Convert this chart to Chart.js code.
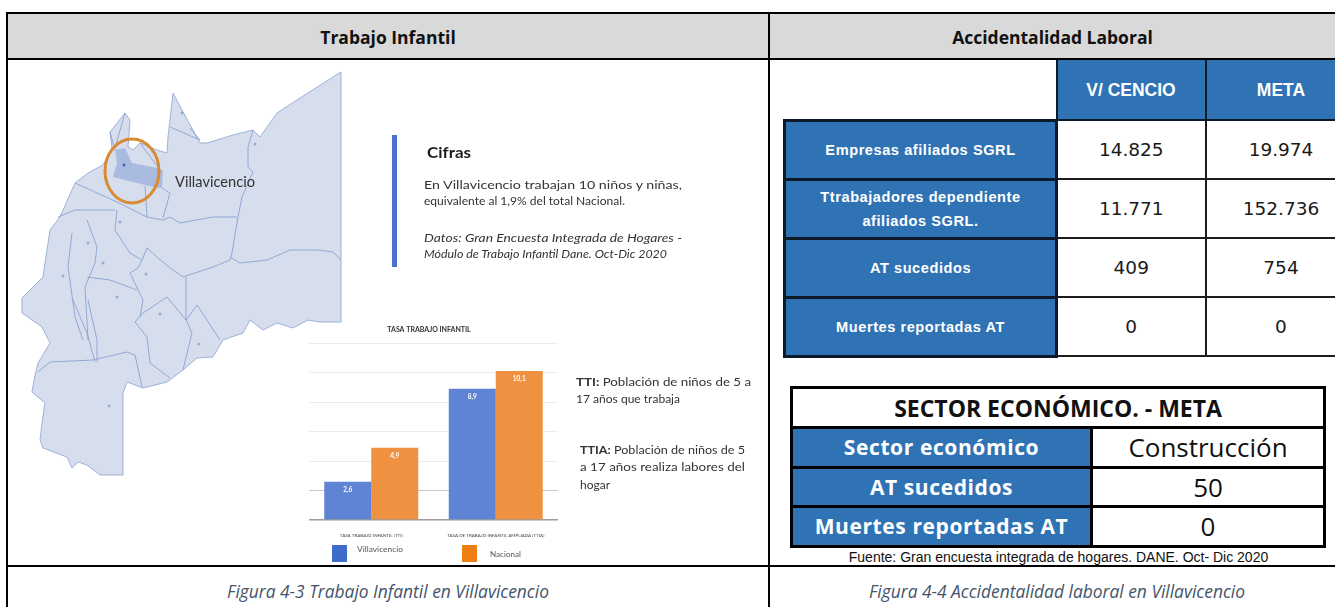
<!DOCTYPE html>
<html lang="es">
<head>
<meta charset="utf-8">
<title>Trabajo Infantil y Accidentalidad Laboral</title>
<script src="https://cdn.jsdelivr.net/npm/chart.js@4"></script>
<style>
  html, body { margin: 0; padding: 0; background: #fff; }
  body { position: relative; width: 1335px; height: 607px; overflow: hidden; font-family: "Liberation Sans", sans-serif; }
  .line { position: absolute; background: #000; }
  .head { position: absolute; top: 14px; height: 44px; line-height: 46px; background: #d9d9d9; text-align: center; font: bold 17.5px/46px "Open Sans", sans-serif; color: #111; }
  .caption { position: absolute; top: 578px; text-align: center; font: italic 17.4px/26px "Open Sans", sans-serif; color: #44546a; white-space: nowrap; }
  #leftArt { position: absolute; left: 0; top: 0; filter: blur(0.55px); }
  #chartWrap { position: absolute; left: 300px; top: 322px; width: 265px; height: 220px; filter: blur(0.55px); }
  table { position: absolute; border-collapse: collapse; table-layout: fixed; }
  #afiliacion { left: 783px; top: 60px; width: 572px; }
  #afiliacion td { border: 2px solid #1c1c1c; text-align: center; padding: 0; font: 18.5px "DejaVu Sans", sans-serif; color: #1a1a1a; }
  #afiliacion td.label, #afiliacion td.top { background: #3073b5; color: #fff; font: bold 14.6px/24px "Liberation Sans", sans-serif; letter-spacing: 0.55px; border-width: 3px; border-color: #0d1a2a; }
  #afiliacion td.top { font-size: 17.5px; letter-spacing: 0; border-width: 0 2px 2px 2px; }
  #afiliacion td.blank { border: 0; background: #fff; }
  #sector { left: 790px; top: 386px; width: 533px; }
  #sector td { border: 3px solid #000; text-align: center; padding: 0; font: 26px "Open Sans", sans-serif; color: #111; }
  #sector td.title { font: bold 23px "Open Sans", sans-serif; }
  #sector td.label { background: #3073b5; color: #fff; font: bold 21px "Open Sans", sans-serif; letter-spacing: 0.6px; }
  #fuente { position: absolute; left: 770px; width: 577px; top: 548px; text-align: center; font: 14px/18px "Liberation Sans", sans-serif; color: #111; white-space: nowrap; }
</style>
</head>
<body>

<div class="head" style="left:8px;width:760px">Trabajo Infantil</div>
<div class="head" style="left:770px;width:565px">Accidentalidad Laboral</div>
<div class="caption" style="left:8px;width:760px">Figura 4-3 Trabajo Infantil en Villavicencio</div>
<div class="caption" style="left:770px;width:574px">Figura 4-4 Accidentalidad laboral en Villavicencio</div>

<svg id="leftArt" width="770" height="565" xmlns="http://www.w3.org/2000/svg"></svg>

<div id="chartWrap"><canvas id="tasaChart" width="265" height="220"></canvas></div>

<table id="afiliacion"></table>
<table id="sector"></table>
<div id="fuente">Fuente: Gran encuesta integrada de hogares. DANE. Oct- Dic 2020</div>

<div class="line" style="left:6px;top:12px;width:1329px;height:2px"></div>
<div class="line" style="left:6px;top:58px;width:1329px;height:2px"></div>
<div class="line" style="left:6px;top:565px;width:1329px;height:2px"></div>
<div class="line" style="left:6px;top:12px;width:2px;height:595px"></div>
<div class="line" style="left:768px;top:12px;width:2px;height:595px"></div>

<script>
// datos de la grafica
const categories = ["TASA TRABAJO INFANTIL (TTI)", "TASA DE TRABAJO INFANTIL AMPLIADA (TTIA)"];
const seriesNames = ["Villavicencio", "Nacional"];
const villavicencioValues = [2.6, 8.9];
const nacionalValues = [4.9, 10.1];
const yTicks = [0, 2, 4, 6, 8, 10, 12];

// tablas de la derecha
const afiliacionColumns = ["V/ CENCIO", "META"];
const afiliacionRows = ["Empresas afiliados SGRL", "Ttrabajadores dependiente<br>afiliados SGRL.", "AT sucedidos", "Muertes reportadas AT"];
const afiliacionVillavicencio = ["14.825", "11.771", "409", "0"];
const afiliacionMeta = ["19.974", "152.736", "754", "0"];
const sectorRows = ["Sector económico", "AT sucedidos", "Muertes reportadas AT"];
const sectorValues = ["Construcción", "50", "0"];

const blue = "#5f84d3";
const orange = "#ee9241";

function pts(list) {
  return list.map((p) => p.join(",")).join(" ");
}

const mapOutline = [[341,72],[341,322],[320,322],[308,320],[293,328],[277,323],[263,330],[250,320],[243,333],[223,340],[213,357],[197,358],[183,370],[167,382],[143,388],[127,382],[123,393],[123,475],[100,475],[87,465],[78,462],[72,468],[67,457],[43,448],[40,440],[42,423],[45,403],[32,392],[35,375],[38,363],[50,343],[42,327],[22,313],[22,298],[43,277],[50,230],[60,217],[75,183],[88,173],[103,165],[112,148],[110,132],[125,113],[130,120],[128,147],[133,150],[140,143],[157,150],[167,153],[168,137],[173,93],[182,110],[200,143],[207,143],[233,135],[253,130],[260,137],[277,113],[300,98],[333,77]];

const mapLines = [
  [[253,130],[248,147],[248,167],[253,172],[242,197],[238,217],[232,253],[230,260],[213,267],[183,277],[170,268],[157,257],[147,248],[142,260]],
  [[230,257],[240,263],[267,260],[290,250],[317,250],[333,252],[341,260]],
  [[75,183],[117,202],[147,217],[163,220],[170,217],[180,223],[213,217],[237,217]],
  [[163,218],[170,193],[162,188]],
  [[58,217],[75,210],[115,210]],
  [[72,233],[68,267],[75,317],[83,340]],
  [[117,210],[115,230],[130,253],[142,260],[138,268],[130,273],[143,300],[140,317]],
  [[87,277],[110,280],[137,290]],
  [[87,220],[97,247],[95,263],[85,287],[88,340]],
  [[186,277],[186,320],[167,297],[143,313],[135,322],[147,337],[150,363],[170,378]],
  [[186,320],[192,333],[183,370]],
  [[197,305],[220,340]],
  [[186,320],[197,305]],
  [[38,372],[50,362],[93,360],[127,352],[135,355],[142,387]],
  [[73,300],[87,333],[95,362]],
  [[88,300],[97,340],[97,362]],
  [[170,127],[200,140],[190,128]],
  [[110,132],[115,150]],
  [[115,148],[125,113]],
  [[140,143],[160,170]],
  [[145,186],[147,217]],
];

const mapDots = [[255,144],[182,113],[120,222],[88,243],[103,263],[63,276],[146,274],[117,297],[160,314],[199,344],[109,406]];

const villaShape = [[115,150],[125,148],[132,163],[157,168],[163,170],[162,188],[157,188],[133,182],[113,177],[117,163]];

// textos del panel izquierdo: [x, y base, ancho, tamano, estilo, texto]
const panelTexts = [
  [175, 187, 80, 15, "", "Villavicencio", "#333"],
  [427, 158, 44, 15.5, "font-weight:bold", "Cifras", "#1c1c1c"],
  [424, 189, 258, 10.5, "", "En Villavicencio trabajan 10 niños y niñas,", "#333"],
  [424, 205, 201, 10.5, "", "equivalente al 1,9% del total Nacional.", "#333"],
  [424, 242, 258, 10.5, "font-style:italic", "Datos: Gran Encuesta Integrada de Hogares -", "#333"],
  [424, 258, 243, 10.5, "font-style:italic", "Módulo de Trabajo Infantil Dane. Oct-Dic 2020", "#333"],
  [576, 386, 175, 11, "", "<tspan font-weight='bold'>TTI:</tspan> Población de niños de 5 a", "#333"],
  [576, 403, 104, 11, "", "17 años que trabaja", "#333"],
  [580, 454, 165, 11, "", "<tspan font-weight='bold'>TTIA:</tspan> Población de niños de 5", "#333"],
  [580, 471, 165, 11, "", "a 17 años realiza labores del", "#333"],
  [580, 489, 30, 11, "", "hogar", "#333"],
  [357, 552, 46, 7.5, "", seriesNames[0], "#555"],
  [490, 557, 31, 7.5, "", seriesNames[1], "#555"],
];

function renderLeftArt() {
  let svg = `<polygon points="${pts(mapOutline)}" fill="#d6deee" stroke="#9db1d9" stroke-width="1" stroke-linejoin="round"/>`;
  svg += `<polygon points="${pts(villaShape)}" fill="#a9bbde"/>`;
  mapLines.forEach((l) => {
    svg += `<polyline points="${pts(l)}" fill="none" stroke="#8aa2d0" stroke-width="0.9" stroke-linejoin="round"/>`;
  });
  mapDots.forEach((d) => {
    svg += `<circle cx="${d[0]}" cy="${d[1]}" r="1.5" fill="#97acd6"/>`;
  });
  svg += `<circle cx="124" cy="165" r="1.5" fill="#3f63b8"/>`;
  svg += `<ellipse cx="132" cy="171" rx="27" ry="32" fill="none" stroke="#d98a32" stroke-width="3"/>`;
  svg += `<rect x="392" y="135" width="5" height="132" fill="#4a72c8"/>`;
  svg += `<rect x="332" y="545" width="15" height="17" fill="#3f6cc8"/>`;
  svg += `<rect x="462" y="545" width="15" height="17" fill="#ee7d14"/>`;
  panelTexts.forEach((t) => {
    svg += `<text x="${t[0]}" y="${t[1]}" textLength="${t[2]}" lengthAdjust="spacingAndGlyphs" font-family="Lato, sans-serif" font-size="${t[3]}" style="${t[4]}" fill="${t[6]}">${t[5]}</text>`;
  });
  document.getElementById("leftArt").innerHTML = svg;
}

function renderTables() {
  let html = `<colgroup><col style="width:272px"><col style="width:149px"><col style="width:151px"></colgroup>`;
  html += `<tr style="height:60px"><td class="blank"></td><td class="top">${afiliacionColumns[0]}</td><td class="top">${afiliacionColumns[1]}</td></tr>`;
  afiliacionRows.forEach((name, i) => {
    html += `<tr style="height:59px"><td class="label">${name}</td><td>${afiliacionVillavicencio[i]}</td><td>${afiliacionMeta[i]}</td></tr>`;
  });
  document.getElementById("afiliacion").innerHTML = html;

  let sector = `<colgroup><col style="width:300px"><col style="width:233px"></colgroup>`;
  sector += `<tr style="height:40px"><td class="title" colspan="2">SECTOR ECONÓMICO. - META</td></tr>`;
  sectorRows.forEach((name, i) => {
    sector += `<tr style="height:39.5px"><td class="label">${name}</td><td>${sectorValues[i]}</td></tr>`;
  });
  document.getElementById("sector").innerHTML = sector;
}

const barLabels = {
  id: "barLabels",
  afterDatasetsDraw(chart) {
    const ctx = chart.ctx;
    ctx.save();
    ctx.fillStyle = "#fff";
    ctx.font = "bold 6.5px Lato, sans-serif";
    ctx.textAlign = "center";
    ctx.textBaseline = "middle";
    chart.data.datasets.forEach((ds, i) => {
      chart.getDatasetMeta(i).data.forEach((bar, j) => {
        ctx.fillText(ds.data[j].toFixed(1).replace(".", ","), bar.x, bar.y + 8);
      });
    });
    ctx.restore();
  },
};

function gridColor(c) {
  if (c.tick.value === 0) return "#9c9c9c";
  if (c.tick.value === 2) return "#c8c8c8";
  return "#ebebeb";
}

function renderChart() {
  new Chart(document.getElementById("tasaChart"), {
    type: "bar",
    data: {
      labels: categories,
      datasets: [
        { label: seriesNames[0], data: villavicencioValues, backgroundColor: blue },
        { label: seriesNames[1], data: nacionalValues, backgroundColor: orange },
      ],
    },
    options: {
      responsive: false,
      animation: false,
      layout: { padding: { right: 7 } },
      categoryPercentage: 0.755,
      barPercentage: 1,
      plugins: {
        legend: { display: false },
        tooltip: { enabled: false },
        title: {
          display: true,
          text: "TASA TRABAJO INFANTIL",
          color: "#333",
          font: { size: 7, weight: "bold", family: "Lato, sans-serif" },
          padding: { top: 4, bottom: 8.6 },
        },
      },
      scales: {
        x: {
          afterFit: (s) => { s.height = 22; },
          grid: { display: false },
          border: { display: false },
          ticks: {
            color: "#444",
            font: { size: 4.5, family: "Lato, sans-serif" },
            maxRotation: 0,
            autoSkip: false,
            padding: 5,
          },
        },
        y: {
          min: 0,
          max: 12,
          afterFit: (s) => { s.width = 9; },
          afterBuildTicks: (s) => { s.ticks = yTicks.map((v) => ({ value: v })); },
          grid: {
            color: gridColor,
            lineWidth: (c) => (c.tick.value === 0 ? 1.5 : 1),
            drawTicks: false,
          },
          border: { display: false },
          ticks: { display: false },
        },
      },
    },
    plugins: [barLabels],
  });
}

renderLeftArt();
renderTables();
renderChart();
</script>
</body>
</html>
